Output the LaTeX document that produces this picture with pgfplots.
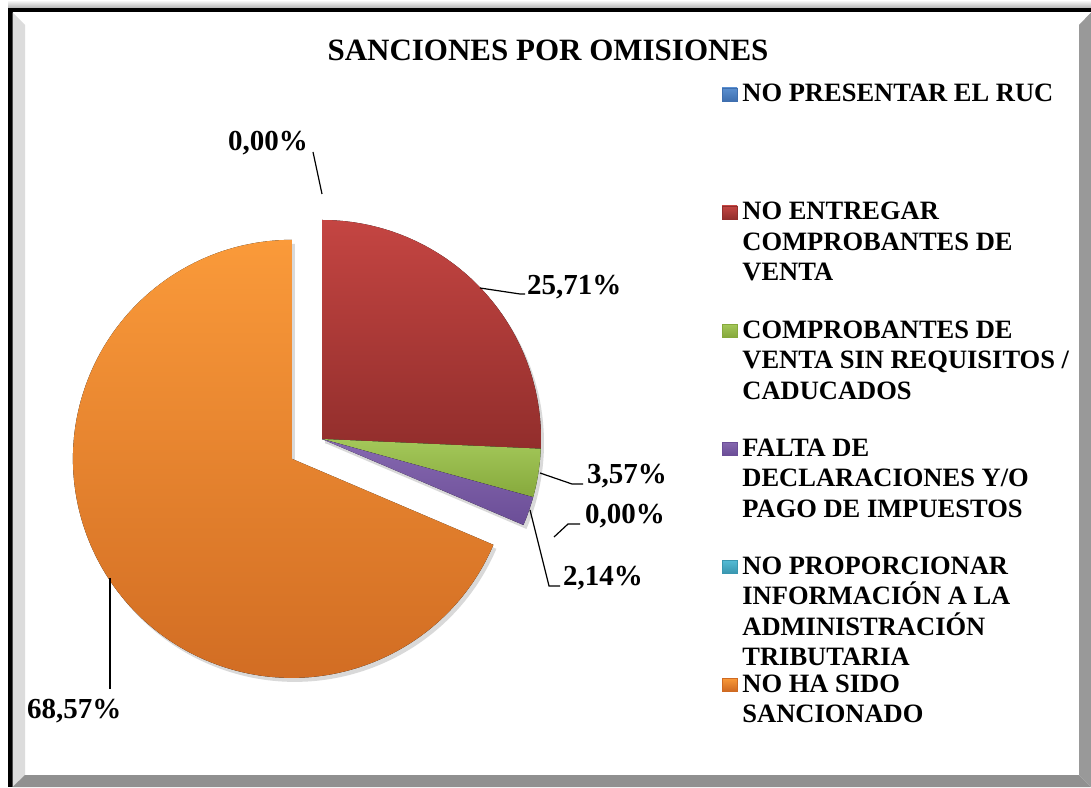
\documentclass[border=0pt]{standalone}
\usepackage{pgfplots}
\pgfplotsset{compat=1.18}
\usepackage{pgfplotstable}
\usepackage{fontspec}
\setmainfont{Liberation Serif}

\definecolor{redT}{HTML}{C44542}
\definecolor{redB}{HTML}{922E2C}
\definecolor{grnT}{HTML}{A4C85A}
\definecolor{grnB}{HTML}{86A93C}
\definecolor{purT}{HTML}{8668B0}
\definecolor{purB}{HTML}{6B4E97}
\definecolor{oraT}{HTML}{FA9A3A}
\definecolor{oraB}{HTML}{CF6A22}
\definecolor{bluT}{HTML}{5A8FD0}
\definecolor{bluB}{HTML}{3F6FAF}
\definecolor{tealT}{HTML}{55BCD6}
\definecolor{tealB}{HTML}{3A97B0}
\definecolor{frameL}{HTML}{DCDCDC}
\definecolor{frameD}{HTML}{909090}
\definecolor{frameR}{HTML}{999999}

% percentage of each category, clockwise from 12 o'clock
\pgfplotstableread{
idx pct
0 0.00
1 25.71
2 3.57
3 2.14
4 0.00
5 68.57
}\piedata

\newcommand\drawslice[4]{%
  \pgfplotstablegetelem{#1}{pct}\of\piedata
  \let\pv\pgfplotsretval
  \pgfmathsetmacro\sa{\cumang}%
  \pgfmathsetmacro\ea{\cumang-3.6*\pv}%
  \pgfmathsetmacro\ma{(\sa+\ea)/2}%
  \pgfmathsetmacro\cx{322+#4*cos(\ma)}%
  \pgfmathsetmacro\cy{348+#4*sin(\ma)}%
  \xdef\cumang{\ea}%
  \ifdim\pv pt>0pt
    \fill[black,opacity=0.15] (axis cs:\cx+3,\cy-4) -- ++(\sa:219pt)
      arc[start angle=\sa,end angle=\ea,radius=219pt] -- cycle;
    \fill[top color=#2,bottom color=#3] (axis cs:\cx,\cy) -- ++(\sa:219pt)
      arc[start angle=\sa,end angle=\ea,radius=219pt] -- cycle;
  \fi
}

\newcommand\legtxt[1]{\parbox[t]{345pt}{#1}}
\newcommand\lblfont{\fontsize{29}{33}\selectfont\bfseries}

\begin{document}
\begin{tikzpicture}[x=1pt,y=1pt]
\useasboundingbox (0,0) rectangle (1091,787);
\fill[white] (0,0) rectangle (1091,787);
\shade[top color=white,bottom color=black!30] (8,779) rectangle (1091,787);
\fill[black] (8,0) rectangle (12.5,779);
\fill[black] (8,774.5) rectangle (1091,779);
\fill[frameL] (12.5,0) -- (12.5,774.5) -- (25,762) -- (25,12) -- cycle;
\fill[frameD] (12.5,0) -- (25,12) -- (1079,12) -- (1091,0) -- cycle;
\fill[frameR] (1091,0) -- (1079,12) -- (1079,762) -- (1091,774.5) -- cycle;

\begin{axis}[
  at={(0,0)}, anchor=south west,
  x=1pt, y=1pt,
  xmin=0, xmax=1091, ymin=0, ymax=787,
  hide axis, clip=false,
  legend style={
    at={(axis cs:722,705)}, anchor=north west,
    draw=none, fill=none, inner sep=0pt, outer sep=0pt,
    row sep=0pt, column sep=5pt,
    cells={anchor=base west},
    nodes={inner sep=0pt, text height=20pt, text depth=98pt,
           font=\fontsize{26.5}{30.5}\selectfont\bfseries},
  },
  legend image code/.code={\path[#1] (0pt,1pt) rectangle (15pt,14pt);},
]
\addlegendimage{top color=bluT,bottom color=bluB,draw=bluB}
\addlegendentry{\legtxt{NO PRESENTAR EL RUC}}
\addlegendimage{top color=redT,bottom color=redB,draw=redB}
\addlegendentry{\legtxt{NO ENTREGAR\\COMPROBANTES DE\\VENTA}}
\addlegendimage{top color=grnT,bottom color=grnB,draw=grnB}
\addlegendentry{\legtxt{COMPROBANTES DE\\VENTA SIN REQUISITOS /\\CADUCADOS}}
\addlegendimage{top color=purT,bottom color=purB,draw=purB}
\addlegendentry{\legtxt{FALTA DE\\DECLARACIONES Y/O\\PAGO DE IMPUESTOS}}
\addlegendimage{top color=tealT,bottom color=tealB,draw=tealB}
\addlegendentry{\legtxt{NO PROPORCIONAR\\INFORMACIÓN A LA\\ADMINISTRACIÓN\\TRIBUTARIA}}
\addlegendimage{top color=oraT,bottom color=oraB,draw=oraB}
\addlegendentry{\legtxt{NO HA SIDO\\SANCIONADO}}

\pgfplotsextra{%
  \gdef\cumang{90}%
  \drawslice{0}{bluT}{bluB}{0}%
  \drawslice{1}{redT}{redB}{0}%
  \drawslice{2}{grnT}{grnB}{0}%
  \drawslice{3}{purT}{purB}{0}%
  \drawslice{4}{tealT}{tealB}{0}%
  \drawslice{5}{oraT}{oraB}{36}%
}

% title
\node[anchor=base, font=\fontsize{31}{35}\selectfont\bfseries] at (axis cs:548,726) {SANCIONES POR OMISIONES};

% data labels and leader lines
\node[anchor=base west, inner sep=0pt, font=\lblfont] at (axis cs:228,636) {0,00\%};
\draw[line width=1.2pt] (axis cs:313,635) -- (axis cs:322,593);
\node[anchor=base west, inner sep=0pt, font=\lblfont] at (axis cs:527,492) {25,71\%};
\draw[line width=1.2pt] (axis cs:480,499) -- (axis cs:520,493) -- (axis cs:525,493);
\node[anchor=base west, inner sep=0pt, font=\lblfont] at (axis cs:587,303) {3,57\%};
\draw[line width=1.2pt] (axis cs:540,314) -- (axis cs:572,303) -- (axis cs:583,303);
\node[anchor=base west, inner sep=0pt, font=\lblfont] at (axis cs:585,263) {0,00\%};
\draw[line width=1.2pt] (axis cs:554,250) -- (axis cs:568,263) -- (axis cs:580,263);
\node[anchor=base west, inner sep=0pt, font=\lblfont] at (axis cs:563,201) {2,14\%};
\draw[line width=1.2pt] (axis cs:530,277) -- (axis cs:549,201) -- (axis cs:560,201);
\node[anchor=base west, inner sep=0pt, font=\lblfont] at (axis cs:27,69) {68,57\%};
\draw[line width=1.2pt] (axis cs:110,209) -- (axis cs:110,98);
\end{axis}
\end{tikzpicture}
\end{document}
